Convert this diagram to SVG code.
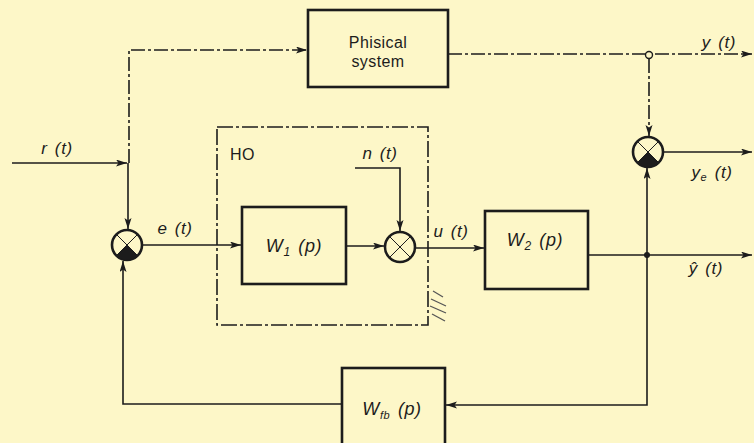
<svg xmlns="http://www.w3.org/2000/svg" xmlns:xlink="http://www.w3.org/1999/xlink" width="754" height="443" viewBox="0 0 754 443">
  <style>
    .box { fill: none; stroke: #1c1c1c; stroke-width: 2.6; }
    .ln { fill: none; stroke: #1c1c1c; stroke-width: 1.6; }
    .dash { fill: none; stroke: #1c1c1c; stroke-width: 1.6; stroke-dasharray: 14 3 3 3; }
    .ho { fill: none; stroke: #1c1c1c; stroke-width: 1.6; stroke-dasharray: 16 3 3 3; }
    .lbl { font-family: "Liberation Sans", Arial, sans-serif; font-style: italic; font-size: 17px; letter-spacing: 0.6px; word-spacing: 2px; fill: #1c1c1c; }
    .wl { font-size: 18px; }
    .txt { font-family: "Liberation Sans", Arial, sans-serif; font-size: 16px; letter-spacing: 0.4px; fill: #1c1c1c; }
    .sc { stroke: #1c1c1c; stroke-width: 2.6; fill: none; }
    .sx { stroke: #1c1c1c; stroke-width: 1; }
  </style>
  <defs>
    <marker id="arr" markerUnits="userSpaceOnUse" markerWidth="12" markerHeight="8" refX="11" refY="3.5" orient="auto">
      <path d="M0,0 L11,3.5 L0,7 L2.5,3.5 Z" fill="#1c1c1c"/>
    </marker>
    <g id="sum">
      <circle r="15" fill="#fdf7c8" class="sc"/>
      <line x1="-10.6" y1="-10.6" x2="10.6" y2="10.6" class="sx"/>
      <line x1="10.6" y1="-10.6" x2="-10.6" y2="10.6" class="sx"/>
    </g>
    <g id="sumneg">
      <circle r="15" fill="#fdf7c8" class="sc"/>
      <line x1="-10.6" y1="-10.6" x2="10.6" y2="10.6" class="sx"/>
      <line x1="10.6" y1="-10.6" x2="-10.6" y2="10.6" class="sx"/>
      <path d="M0,0 L10.6,10.6 A15,15 0 0 1 -10.6,10.6 Z" fill="#1c1c1c"/>
    </g>
  </defs>

  <rect x="0" y="0" width="754" height="443" fill="#fdf7c8"/>

  <g id="connectors">
    <path class="ln" d="M12,163 H127" marker-end="url(#arr)"/>
    <path class="ln" d="M128,163 V229" marker-end="url(#arr)"/>
    <path class="dash" d="M129,163 V50 H307" marker-end="url(#arr)"/>
    <path class="ln" d="M142,245 H241" marker-end="url(#arr)"/>
    <path class="ln" d="M346,246 H384" marker-end="url(#arr)"/>
    <path class="ln" d="M355,168 H400 V231" marker-end="url(#arr)"/>
    <path class="ln" d="M415,248 H484" marker-end="url(#arr)"/>
    <path class="ln" d="M588,255 H752" marker-end="url(#arr)"/>
    <path class="ln" d="M647,255 V168" marker-end="url(#arr)"/>
    <path class="ln" d="M663,152 H752" marker-end="url(#arr)"/>
    <path class="dash" d="M448,54 H752" marker-end="url(#arr)"/>
    <path class="dash" d="M649,59 V136" marker-end="url(#arr)"/>
    <path class="ln" d="M647,255 V405 H446" marker-end="url(#arr)"/>
    <path class="ln" d="M342,404 H123 V261" marker-end="url(#arr)"/>
    <circle cx="649" cy="55" r="3.5" fill="#fdf7c8" stroke="#1c1c1c" stroke-width="1.4"/>
    <circle cx="647" cy="255" r="3" fill="#1c1c1c"/>
  </g>

  <g id="ho">
    <rect class="ho" x="217" y="127" width="211" height="198"/>
    <text class="txt" x="230" y="160" font-size="17">HO</text>
    <g stroke="#555" stroke-width="1.3" fill="none">
      <line x1="433" y1="291" x2="443" y2="297"/>
      <line x1="431" y1="299" x2="446" y2="306"/>
      <line x1="430" y1="306" x2="446" y2="313"/>
      <line x1="432" y1="314" x2="445" y2="321"/>
    </g>
  </g>

  <g id="physical">
    <rect class="box" x="308" y="10" width="140" height="77"/>
    <text class="txt" x="378" y="48" text-anchor="middle">Phisical</text>
    <text class="txt" x="378" y="67" text-anchor="middle" font-size="15">system</text>
  </g>

  <g id="w1">
    <rect class="box" x="242" y="207" width="104" height="77"/>
    <text class="lbl wl" x="294" y="252" text-anchor="middle">W<tspan font-size="12" dy="4">1</tspan><tspan dy="-4"> (p)</tspan></text>
  </g>

  <g id="w2">
    <rect class="box" x="485" y="211" width="103" height="78"/>
    <text class="lbl wl" x="535" y="246" text-anchor="middle">W<tspan font-size="12" dy="4">2</tspan><tspan dy="-4"> (p)</tspan></text>
  </g>

  <g id="wfb">
    <rect class="box" x="342" y="368" width="103" height="82"/>
    <text class="lbl wl" x="392" y="415" text-anchor="middle">W<tspan font-size="11" dy="4">fb</tspan><tspan dy="-4"> (p)</tspan></text>
  </g>

  <g id="sum1"><use xlink:href="#sumneg" x="127" y="245"/></g>
  <g id="sum2"><use xlink:href="#sumneg" x="648" y="152"/></g>
  <g id="sum3"><use xlink:href="#sum" x="400" y="247"/></g>

  <g id="labels">
    <text class="lbl" x="57" y="154" text-anchor="middle">r (t)</text>
    <text class="lbl" x="175" y="234" text-anchor="middle">e (t)</text>
    <text class="lbl" x="380" y="159" text-anchor="middle">n (t)</text>
    <text class="lbl" x="451" y="237" text-anchor="middle">u (t)</text>
    <text class="lbl" x="719" y="48" text-anchor="middle">y (t)</text>
    <text class="lbl" x="712" y="178" text-anchor="middle">y<tspan font-size="11" dy="3">e</tspan><tspan dy="-3"> (t)</tspan></text>
    <text class="lbl" x="706" y="274" text-anchor="middle">ŷ (t)</text>
  </g>
</svg>
